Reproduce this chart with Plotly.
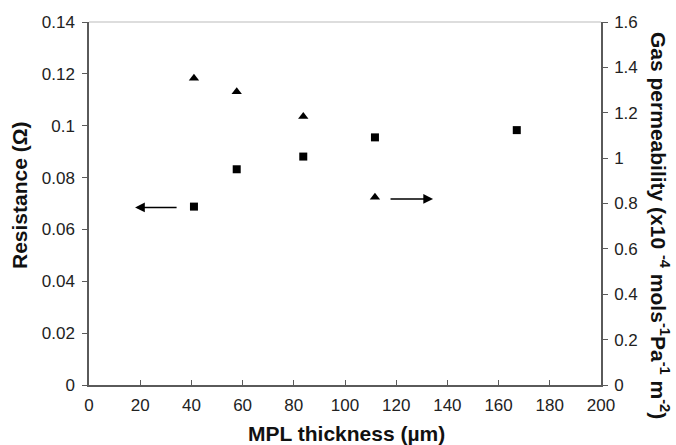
import plotly.graph_objects as go

thickness = [41.0, 57.7, 83.7, 111.7, 167.1]
resistance = [0.0688, 0.0832, 0.0881, 0.0955, 0.0983]
perm_thickness = [41.0, 57.7, 83.7, 111.7]
permeability = [1.352, 1.293, 1.183, 0.827]

x_ticks = list(range(0, 201, 20))
y_ticks = [0, 0.02, 0.04, 0.06, 0.08, 0.1, 0.12, 0.14]
y_tick_labels = ["0", "0.02", "0.04", "0.06", "0.08", "0.1", "0.12", "0.14"]
y2_ticks = [0, 0.2, 0.4, 0.6, 0.8, 1.0, 1.2, 1.4, 1.6]
y2_tick_labels = ["0", "0.2", "0.4", "0.6", "0.8", "1", "1.2", "1.4", "1.6"]

axis_col = "#5a5a5a"
font_family = "Liberation Sans, Arial, sans-serif"
tick_font = dict(size=17, color="#222222", family=font_family)
title_font = dict(size=21, color="#111111", family=font_family)

fig = go.Figure()
fig.add_trace(go.Scatter(x=thickness, y=resistance, mode="markers",
                         marker=dict(symbol="square", size=8, color="black"),
                         name="Resistance", yaxis="y"))
fig.add_trace(go.Scatter(x=perm_thickness, y=permeability, mode="markers",
                         marker=dict(symbol="triangle-up", size=9, color="black"),
                         name="Gas permeability", yaxis="y2"))

fig.update_layout(
    width=676, height=445,
    margin=dict(l=89, r=75, t=22, b=60),
    paper_bgcolor="white", plot_bgcolor="white",
    showlegend=False,
    font=dict(family=font_family, size=17, color="#222222"),
    xaxis=dict(range=[0, 200], tickvals=x_ticks, ticks="inside", ticklen=5,
               tickcolor=axis_col, showline=True, linecolor=axis_col, linewidth=1.5,
               showgrid=False, zeroline=False, mirror=False,
               tickfont=tick_font, automargin=False, ticklabelstandoff=4),
    yaxis=dict(range=[0, 0.14], tickvals=y_ticks, ticktext=y_tick_labels,
               ticks="outside", ticklen=5, tickcolor=axis_col,
               showline=True, linecolor=axis_col, linewidth=1.5,
               showgrid=False, zeroline=False,
               tickfont=tick_font, automargin=False, ticklabelstandoff=4),
    yaxis2=dict(range=[0, 1.6], tickvals=y2_ticks, ticktext=y2_tick_labels,
                overlaying="y", side="right",
                ticks="outside", ticklen=5, tickcolor=axis_col,
                showline=True, linecolor=axis_col, linewidth=1.5,
                showgrid=False, zeroline=False,
                tickfont=tick_font, automargin=False, ticklabelstandoff=3),
)

# light top border
fig.add_shape(type="line", xref="paper", yref="paper", x0=0, x1=1, y0=1, y1=1,
              line=dict(color="#bbbbbb", width=1))

# arrows
fig.add_annotation(x=18.0, y=0.0685, ax=34.8, ay=0.0685, xref="x", yref="y",
                   axref="x", ayref="y", text="", showarrow=True,
                   arrowhead=2, arrowsize=1.3, arrowwidth=1.5, arrowcolor="black")
fig.add_annotation(x=134.4, y=0.82, ax=117.2, ay=0.82, xref="x", yref="y2",
                   axref="x", ayref="y2", text="", showarrow=True,
                   arrowhead=2, arrowsize=1.3, arrowwidth=1.5, arrowcolor="black")

# axis titles
fig.add_annotation(text="<b>Resistance (Ω)</b>", xref="paper", yref="paper",
                   x=(19 - 89) / 512, y=(385 - 195) / 363, textangle=-90, showarrow=False,
                   font=title_font, xanchor="center", yanchor="middle")
fig.add_annotation(text="<b>Gas permeability (x10 <sup>-4</sup> mols<sup>-1</sup>Pa<sup>-1</sup> m<sup>-2</sup>)</b>",
                   xref="paper", yref="paper", x=(660 - 89) / 512, y=(385 - 225) / 363,
                   textangle=90, showarrow=False, font=title_font,
                   xanchor="center", yanchor="middle")
fig.add_annotation(text="<b>MPL thickness (µm)</b>", xref="paper", yref="paper",
                   x=(346 - 89) / 512, y=(385 - 433) / 363, showarrow=False,
                   font=title_font, xanchor="center", yanchor="middle")

fig.write_html("out.html", config={"displayModeBar": False},
               post_script="document.body.style.margin='0px';")
